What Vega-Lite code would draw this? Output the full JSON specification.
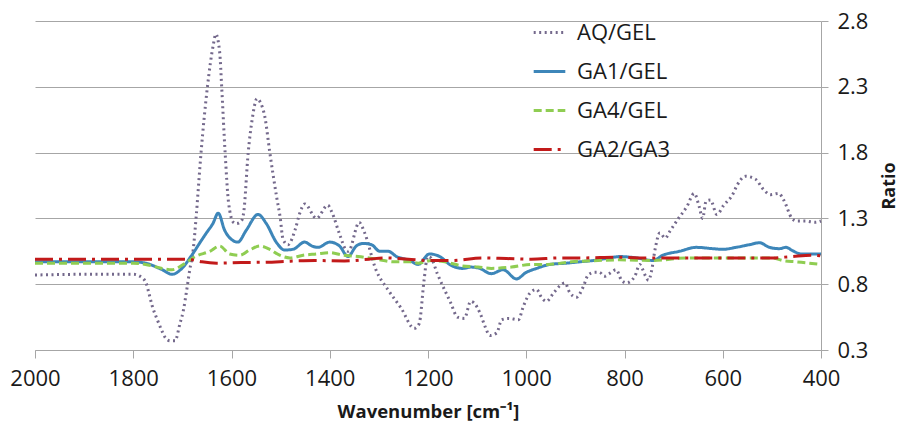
{
  "$schema": "https://vega.github.io/schema/vega-lite/v6.json",
  "width": 786,
  "height": 329,
  "autosize": "none",
  "padding": {"left": 35, "top": 21, "right": 81, "bottom": 75},
  "background": "white",
  "config": {
    "font": "Open Sans",
    "view": {"stroke": null},
    "axis": {"labelFont": "Open Sans", "titleFont": "Open Sans"}
  },
  "datasets": {
    "spectra": [
      {"w": 2000, "r": 0.87, "s": "AQ/GEL"},
      {"w": 1900, "r": 0.875, "s": "AQ/GEL"},
      {"w": 1800, "r": 0.875, "s": "AQ/GEL"},
      {"w": 1786, "r": 0.86, "s": "AQ/GEL"},
      {"w": 1774, "r": 0.81, "s": "AQ/GEL"},
      {"w": 1768, "r": 0.73, "s": "AQ/GEL"},
      {"w": 1761, "r": 0.63, "s": "AQ/GEL"},
      {"w": 1751, "r": 0.53, "s": "AQ/GEL"},
      {"w": 1741, "r": 0.44, "s": "AQ/GEL"},
      {"w": 1734, "r": 0.39, "s": "AQ/GEL"},
      {"w": 1725, "r": 0.37, "s": "AQ/GEL"},
      {"w": 1715, "r": 0.37, "s": "AQ/GEL"},
      {"w": 1705, "r": 0.5, "s": "AQ/GEL"},
      {"w": 1698, "r": 0.6, "s": "AQ/GEL"},
      {"w": 1691, "r": 0.76, "s": "AQ/GEL"},
      {"w": 1685, "r": 0.91, "s": "AQ/GEL"},
      {"w": 1678, "r": 1.06, "s": "AQ/GEL"},
      {"w": 1672, "r": 1.31, "s": "AQ/GEL"},
      {"w": 1662, "r": 1.8, "s": "AQ/GEL"},
      {"w": 1649, "r": 2.3, "s": "AQ/GEL"},
      {"w": 1637, "r": 2.62, "s": "AQ/GEL"},
      {"w": 1632, "r": 2.7, "s": "AQ/GEL"},
      {"w": 1624, "r": 2.56, "s": "AQ/GEL"},
      {"w": 1620, "r": 2.3, "s": "AQ/GEL"},
      {"w": 1613, "r": 1.8, "s": "AQ/GEL"},
      {"w": 1606, "r": 1.42, "s": "AQ/GEL"},
      {"w": 1596, "r": 1.27, "s": "AQ/GEL"},
      {"w": 1590, "r": 1.26, "s": "AQ/GEL"},
      {"w": 1580, "r": 1.28, "s": "AQ/GEL"},
      {"w": 1575, "r": 1.35, "s": "AQ/GEL"},
      {"w": 1566, "r": 1.8, "s": "AQ/GEL"},
      {"w": 1558, "r": 2.05, "s": "AQ/GEL"},
      {"w": 1548, "r": 2.21, "s": "AQ/GEL"},
      {"w": 1541, "r": 2.18, "s": "AQ/GEL"},
      {"w": 1532, "r": 2.07, "s": "AQ/GEL"},
      {"w": 1522, "r": 1.8, "s": "AQ/GEL"},
      {"w": 1508, "r": 1.46, "s": "AQ/GEL"},
      {"w": 1501, "r": 1.31, "s": "AQ/GEL"},
      {"w": 1495, "r": 1.14, "s": "AQ/GEL"},
      {"w": 1485, "r": 1.1, "s": "AQ/GEL"},
      {"w": 1470, "r": 1.22, "s": "AQ/GEL"},
      {"w": 1461, "r": 1.34, "s": "AQ/GEL"},
      {"w": 1451, "r": 1.41, "s": "AQ/GEL"},
      {"w": 1427, "r": 1.3, "s": "AQ/GEL"},
      {"w": 1404, "r": 1.4, "s": "AQ/GEL"},
      {"w": 1396, "r": 1.35, "s": "AQ/GEL"},
      {"w": 1380, "r": 1.18, "s": "AQ/GEL"},
      {"w": 1367, "r": 1.06, "s": "AQ/GEL"},
      {"w": 1362, "r": 1.05, "s": "AQ/GEL"},
      {"w": 1340, "r": 1.27, "s": "AQ/GEL"},
      {"w": 1330, "r": 1.2, "s": "AQ/GEL"},
      {"w": 1306, "r": 0.91, "s": "AQ/GEL"},
      {"w": 1280, "r": 0.75, "s": "AQ/GEL"},
      {"w": 1255, "r": 0.62, "s": "AQ/GEL"},
      {"w": 1228, "r": 0.465, "s": "AQ/GEL"},
      {"w": 1218, "r": 0.5, "s": "AQ/GEL"},
      {"w": 1208, "r": 0.83, "s": "AQ/GEL"},
      {"w": 1201, "r": 1.01, "s": "AQ/GEL"},
      {"w": 1194, "r": 1.0, "s": "AQ/GEL"},
      {"w": 1181, "r": 0.88, "s": "AQ/GEL"},
      {"w": 1154, "r": 0.66, "s": "AQ/GEL"},
      {"w": 1140, "r": 0.55, "s": "AQ/GEL"},
      {"w": 1126, "r": 0.54, "s": "AQ/GEL"},
      {"w": 1113, "r": 0.67, "s": "AQ/GEL"},
      {"w": 1107, "r": 0.66, "s": "AQ/GEL"},
      {"w": 1094, "r": 0.58, "s": "AQ/GEL"},
      {"w": 1084, "r": 0.48, "s": "AQ/GEL"},
      {"w": 1074, "r": 0.41, "s": "AQ/GEL"},
      {"w": 1060, "r": 0.43, "s": "AQ/GEL"},
      {"w": 1050, "r": 0.53, "s": "AQ/GEL"},
      {"w": 1036, "r": 0.54, "s": "AQ/GEL"},
      {"w": 1016, "r": 0.53, "s": "AQ/GEL"},
      {"w": 1006, "r": 0.63, "s": "AQ/GEL"},
      {"w": 993, "r": 0.73, "s": "AQ/GEL"},
      {"w": 979, "r": 0.76, "s": "AQ/GEL"},
      {"w": 969, "r": 0.7, "s": "AQ/GEL"},
      {"w": 959, "r": 0.67, "s": "AQ/GEL"},
      {"w": 945, "r": 0.73, "s": "AQ/GEL"},
      {"w": 931, "r": 0.79, "s": "AQ/GEL"},
      {"w": 921, "r": 0.81, "s": "AQ/GEL"},
      {"w": 912, "r": 0.74, "s": "AQ/GEL"},
      {"w": 898, "r": 0.7, "s": "AQ/GEL"},
      {"w": 884, "r": 0.78, "s": "AQ/GEL"},
      {"w": 874, "r": 0.87, "s": "AQ/GEL"},
      {"w": 861, "r": 0.89, "s": "AQ/GEL"},
      {"w": 851, "r": 0.89, "s": "AQ/GEL"},
      {"w": 841, "r": 0.86, "s": "AQ/GEL"},
      {"w": 831, "r": 0.88, "s": "AQ/GEL"},
      {"w": 817, "r": 0.91, "s": "AQ/GEL"},
      {"w": 806, "r": 0.83, "s": "AQ/GEL"},
      {"w": 796, "r": 0.81, "s": "AQ/GEL"},
      {"w": 779, "r": 0.86, "s": "AQ/GEL"},
      {"w": 769, "r": 0.95, "s": "AQ/GEL"},
      {"w": 764, "r": 0.92, "s": "AQ/GEL"},
      {"w": 757, "r": 0.86, "s": "AQ/GEL"},
      {"w": 751, "r": 0.83, "s": "AQ/GEL"},
      {"w": 745, "r": 0.9, "s": "AQ/GEL"},
      {"w": 738, "r": 1.06, "s": "AQ/GEL"},
      {"w": 728, "r": 1.19, "s": "AQ/GEL"},
      {"w": 717, "r": 1.15, "s": "AQ/GEL"},
      {"w": 708, "r": 1.2, "s": "AQ/GEL"},
      {"w": 692, "r": 1.29, "s": "AQ/GEL"},
      {"w": 673, "r": 1.39, "s": "AQ/GEL"},
      {"w": 658, "r": 1.49, "s": "AQ/GEL"},
      {"w": 648, "r": 1.39, "s": "AQ/GEL"},
      {"w": 641, "r": 1.3, "s": "AQ/GEL"},
      {"w": 634, "r": 1.43, "s": "AQ/GEL"},
      {"w": 625, "r": 1.44, "s": "AQ/GEL"},
      {"w": 612, "r": 1.33, "s": "AQ/GEL"},
      {"w": 598, "r": 1.4, "s": "AQ/GEL"},
      {"w": 580, "r": 1.48, "s": "AQ/GEL"},
      {"w": 571, "r": 1.55, "s": "AQ/GEL"},
      {"w": 554, "r": 1.62, "s": "AQ/GEL"},
      {"w": 534, "r": 1.6, "s": "AQ/GEL"},
      {"w": 517, "r": 1.52, "s": "AQ/GEL"},
      {"w": 503, "r": 1.48, "s": "AQ/GEL"},
      {"w": 486, "r": 1.49, "s": "AQ/GEL"},
      {"w": 476, "r": 1.44, "s": "AQ/GEL"},
      {"w": 459, "r": 1.3, "s": "AQ/GEL"},
      {"w": 449, "r": 1.28, "s": "AQ/GEL"},
      {"w": 432, "r": 1.28, "s": "AQ/GEL"},
      {"w": 412, "r": 1.27, "s": "AQ/GEL"},
      {"w": 400, "r": 1.28, "s": "AQ/GEL"},

      {"w": 2000, "r": 0.97, "s": "GA1/GEL"},
      {"w": 1800, "r": 0.97, "s": "GA1/GEL"},
      {"w": 1775, "r": 0.96, "s": "GA1/GEL"},
      {"w": 1741, "r": 0.91, "s": "GA1/GEL"},
      {"w": 1721, "r": 0.875, "s": "GA1/GEL"},
      {"w": 1701, "r": 0.92, "s": "GA1/GEL"},
      {"w": 1681, "r": 1.02, "s": "GA1/GEL"},
      {"w": 1660, "r": 1.14, "s": "GA1/GEL"},
      {"w": 1651, "r": 1.19, "s": "GA1/GEL"},
      {"w": 1638, "r": 1.26, "s": "GA1/GEL"},
      {"w": 1627, "r": 1.34, "s": "GA1/GEL"},
      {"w": 1614, "r": 1.21, "s": "GA1/GEL"},
      {"w": 1600, "r": 1.14, "s": "GA1/GEL"},
      {"w": 1587, "r": 1.12, "s": "GA1/GEL"},
      {"w": 1570, "r": 1.21, "s": "GA1/GEL"},
      {"w": 1546, "r": 1.33, "s": "GA1/GEL"},
      {"w": 1529, "r": 1.26, "s": "GA1/GEL"},
      {"w": 1509, "r": 1.12, "s": "GA1/GEL"},
      {"w": 1492, "r": 1.06, "s": "GA1/GEL"},
      {"w": 1475, "r": 1.065, "s": "GA1/GEL"},
      {"w": 1451, "r": 1.12, "s": "GA1/GEL"},
      {"w": 1436, "r": 1.09, "s": "GA1/GEL"},
      {"w": 1424, "r": 1.08, "s": "GA1/GEL"},
      {"w": 1400, "r": 1.12, "s": "GA1/GEL"},
      {"w": 1380, "r": 1.09, "s": "GA1/GEL"},
      {"w": 1363, "r": 1.01, "s": "GA1/GEL"},
      {"w": 1346, "r": 1.09, "s": "GA1/GEL"},
      {"w": 1332, "r": 1.11, "s": "GA1/GEL"},
      {"w": 1315, "r": 1.1, "s": "GA1/GEL"},
      {"w": 1298, "r": 1.05, "s": "GA1/GEL"},
      {"w": 1281, "r": 1.05, "s": "GA1/GEL"},
      {"w": 1264, "r": 1.01, "s": "GA1/GEL"},
      {"w": 1237, "r": 0.98, "s": "GA1/GEL"},
      {"w": 1220, "r": 0.95, "s": "GA1/GEL"},
      {"w": 1197, "r": 1.03, "s": "GA1/GEL"},
      {"w": 1176, "r": 1.01, "s": "GA1/GEL"},
      {"w": 1156, "r": 0.95, "s": "GA1/GEL"},
      {"w": 1129, "r": 0.92, "s": "GA1/GEL"},
      {"w": 1112, "r": 0.93, "s": "GA1/GEL"},
      {"w": 1095, "r": 0.92, "s": "GA1/GEL"},
      {"w": 1071, "r": 0.88, "s": "GA1/GEL"},
      {"w": 1047, "r": 0.91, "s": "GA1/GEL"},
      {"w": 1020, "r": 0.84, "s": "GA1/GEL"},
      {"w": 1000, "r": 0.89, "s": "GA1/GEL"},
      {"w": 979, "r": 0.92, "s": "GA1/GEL"},
      {"w": 952, "r": 0.95, "s": "GA1/GEL"},
      {"w": 918, "r": 0.96, "s": "GA1/GEL"},
      {"w": 891, "r": 0.97, "s": "GA1/GEL"},
      {"w": 864, "r": 0.98, "s": "GA1/GEL"},
      {"w": 830, "r": 1.0, "s": "GA1/GEL"},
      {"w": 810, "r": 1.01, "s": "GA1/GEL"},
      {"w": 776, "r": 1.0, "s": "GA1/GEL"},
      {"w": 742, "r": 0.98, "s": "GA1/GEL"},
      {"w": 722, "r": 1.02, "s": "GA1/GEL"},
      {"w": 688, "r": 1.05, "s": "GA1/GEL"},
      {"w": 654, "r": 1.08, "s": "GA1/GEL"},
      {"w": 620, "r": 1.07, "s": "GA1/GEL"},
      {"w": 600, "r": 1.065, "s": "GA1/GEL"},
      {"w": 573, "r": 1.08, "s": "GA1/GEL"},
      {"w": 546, "r": 1.1, "s": "GA1/GEL"},
      {"w": 525, "r": 1.115, "s": "GA1/GEL"},
      {"w": 505, "r": 1.08, "s": "GA1/GEL"},
      {"w": 485, "r": 1.07, "s": "GA1/GEL"},
      {"w": 471, "r": 1.08, "s": "GA1/GEL"},
      {"w": 458, "r": 1.055, "s": "GA1/GEL"},
      {"w": 441, "r": 1.03, "s": "GA1/GEL"},
      {"w": 424, "r": 1.03, "s": "GA1/GEL"},
      {"w": 400, "r": 1.03, "s": "GA1/GEL"},

      {"w": 2000, "r": 0.96, "s": "GA4/GEL"},
      {"w": 1800, "r": 0.96, "s": "GA4/GEL"},
      {"w": 1775, "r": 0.95, "s": "GA4/GEL"},
      {"w": 1741, "r": 0.92, "s": "GA4/GEL"},
      {"w": 1721, "r": 0.91, "s": "GA4/GEL"},
      {"w": 1694, "r": 0.96, "s": "GA4/GEL"},
      {"w": 1674, "r": 1.01, "s": "GA4/GEL"},
      {"w": 1644, "r": 1.05, "s": "GA4/GEL"},
      {"w": 1624, "r": 1.09, "s": "GA4/GEL"},
      {"w": 1604, "r": 1.03, "s": "GA4/GEL"},
      {"w": 1583, "r": 1.02, "s": "GA4/GEL"},
      {"w": 1563, "r": 1.06, "s": "GA4/GEL"},
      {"w": 1542, "r": 1.09, "s": "GA4/GEL"},
      {"w": 1522, "r": 1.065, "s": "GA4/GEL"},
      {"w": 1502, "r": 1.02, "s": "GA4/GEL"},
      {"w": 1481, "r": 1.0, "s": "GA4/GEL"},
      {"w": 1454, "r": 1.02, "s": "GA4/GEL"},
      {"w": 1427, "r": 1.03, "s": "GA4/GEL"},
      {"w": 1400, "r": 1.04, "s": "GA4/GEL"},
      {"w": 1373, "r": 1.02, "s": "GA4/GEL"},
      {"w": 1342, "r": 1.01, "s": "GA4/GEL"},
      {"w": 1305, "r": 0.99, "s": "GA4/GEL"},
      {"w": 1271, "r": 0.97, "s": "GA4/GEL"},
      {"w": 1237, "r": 0.97, "s": "GA4/GEL"},
      {"w": 1220, "r": 0.96, "s": "GA4/GEL"},
      {"w": 1193, "r": 0.98, "s": "GA4/GEL"},
      {"w": 1166, "r": 0.97, "s": "GA4/GEL"},
      {"w": 1132, "r": 0.94, "s": "GA4/GEL"},
      {"w": 1098, "r": 0.93, "s": "GA4/GEL"},
      {"w": 1071, "r": 0.92, "s": "GA4/GEL"},
      {"w": 1030, "r": 0.93, "s": "GA4/GEL"},
      {"w": 990, "r": 0.95, "s": "GA4/GEL"},
      {"w": 956, "r": 0.95, "s": "GA4/GEL"},
      {"w": 908, "r": 0.97, "s": "GA4/GEL"},
      {"w": 854, "r": 0.98, "s": "GA4/GEL"},
      {"w": 810, "r": 0.985, "s": "GA4/GEL"},
      {"w": 742, "r": 0.98, "s": "GA4/GEL"},
      {"w": 674, "r": 1.0, "s": "GA4/GEL"},
      {"w": 606, "r": 1.0, "s": "GA4/GEL"},
      {"w": 539, "r": 1.0, "s": "GA4/GEL"},
      {"w": 498, "r": 1.0, "s": "GA4/GEL"},
      {"w": 478, "r": 0.98, "s": "GA4/GEL"},
      {"w": 451, "r": 0.97, "s": "GA4/GEL"},
      {"w": 424, "r": 0.96, "s": "GA4/GEL"},
      {"w": 400, "r": 0.95, "s": "GA4/GEL"},

      {"w": 2000, "r": 0.99, "s": "GA2/GA3"},
      {"w": 1700, "r": 0.99, "s": "GA2/GA3"},
      {"w": 1680, "r": 0.985, "s": "GA2/GA3"},
      {"w": 1660, "r": 0.97, "s": "GA2/GA3"},
      {"w": 1630, "r": 0.96, "s": "GA2/GA3"},
      {"w": 1580, "r": 0.965, "s": "GA2/GA3"},
      {"w": 1530, "r": 0.967, "s": "GA2/GA3"},
      {"w": 1480, "r": 0.975, "s": "GA2/GA3"},
      {"w": 1430, "r": 0.98, "s": "GA2/GA3"},
      {"w": 1370, "r": 0.977, "s": "GA2/GA3"},
      {"w": 1320, "r": 0.99, "s": "GA2/GA3"},
      {"w": 1290, "r": 1.0, "s": "GA2/GA3"},
      {"w": 1240, "r": 0.99, "s": "GA2/GA3"},
      {"w": 1200, "r": 0.98, "s": "GA2/GA3"},
      {"w": 1150, "r": 0.98, "s": "GA2/GA3"},
      {"w": 1090, "r": 1.0, "s": "GA2/GA3"},
      {"w": 1040, "r": 0.995, "s": "GA2/GA3"},
      {"w": 990, "r": 0.99, "s": "GA2/GA3"},
      {"w": 930, "r": 1.0, "s": "GA2/GA3"},
      {"w": 880, "r": 1.0, "s": "GA2/GA3"},
      {"w": 820, "r": 1.005, "s": "GA2/GA3"},
      {"w": 770, "r": 1.0, "s": "GA2/GA3"},
      {"w": 700, "r": 1.0, "s": "GA2/GA3"},
      {"w": 600, "r": 1.0, "s": "GA2/GA3"},
      {"w": 500, "r": 1.0, "s": "GA2/GA3"},
      {"w": 460, "r": 1.01, "s": "GA2/GA3"},
      {"w": 420, "r": 1.02, "s": "GA2/GA3"},
      {"w": 400, "r": 1.015, "s": "GA2/GA3"}
    ]
  },
  "layer": [
    {
      "data": {"name": "spectra"},
      "mark": {"type": "line", "strokeWidth": 3, "interpolate": "monotone"},
      "encoding": {
        "x": {
          "field": "w", "type": "quantitative",
          "scale": {"domain": [400, 2000], "reverse": true, "nice": false, "zero": false},
          "axis": {
            "orient": "bottom",
            "values": [2000, 1800, 1600, 1400, 1200, 1000, 800, 600, 400],
            "format": "d",
            "grid": false,
            "labelFlush": false,
            "domainColor": "#a6a6a6",
            "tickColor": "#a6a6a6",
            "tickSize": 8,
            "labelFontSize": 22,
            "labelColor": "#1a1a1a",
            "labelPadding": 10,
            "title": "Wavenumber [cm⁻¹]",
            "titleFontSize": 18.5,
            "titleFontWeight": "bold",
            "titleColor": "#1a1a1a",
            "titlePadding": 13
          }
        },
        "y": {
          "field": "r", "type": "quantitative",
          "scale": {"domain": [0.3, 2.8], "nice": false, "zero": false},
          "axis": {
            "orient": "right",
            "values": [0.3, 0.8, 1.3, 1.8, 2.3, 2.8],
            "format": ".1f",
            "grid": true,
            "gridColor": "#a6a6a6",
            "domainColor": "#a6a6a6",
            "tickColor": "#a6a6a6",
            "tickSize": 7,
            "labelFontSize": 22,
            "labelColor": "#1a1a1a",
            "labelPadding": 9,
            "title": "Ratio",
            "titleAngle": 270,
            "titleFontSize": 18,
            "titleFontWeight": "bold",
            "titleColor": "#1a1a1a",
            "titlePadding": 31
          }
        },
        "color": {
          "field": "s", "type": "nominal",
          "scale": {"domain": ["AQ/GEL", "GA1/GEL", "GA4/GEL", "GA2/GA3"], "range": ["#74698c", "#3d86b9", "#8fcd52", "#c21a1a"]},
          "legend": {
            "title": null,
            "orient": "none",
            "legendX": 497,
            "legendY": -6,
            "symbolType": "stroke",
            "symbolSize": 1000,
            "symbolStrokeWidth": 3,
            "labelFontSize": 22,
            "labelColor": "#1a1a1a",
            "labelOffset": 10,
            "rowPadding": 10,
            "labelFont": "Open Sans"
          }
        },
        "strokeDash": {
          "field": "s", "type": "nominal",
          "scale": {"domain": ["AQ/GEL", "GA1/GEL", "GA4/GEL", "GA2/GA3"], "range": [[2, 3.5], [1, 0], [8, 4], [18, 6, 3, 6]]},
          "legend": {
            "title": null,
            "orient": "none",
            "legendX": 497,
            "legendY": -6,
            "symbolType": "stroke",
            "symbolSize": 1000,
            "symbolStrokeWidth": 3,
            "labelFontSize": 22,
            "labelColor": "#1a1a1a",
            "labelOffset": 10,
            "rowPadding": 10,
            "labelFont": "Open Sans"
          }
        },
        "order": {"field": "w", "type": "quantitative", "sort": "descending"}
      }
    },
    {
      "mark": {"type": "rule", "color": "#9ccc62", "strokeWidth": 1, "strokeDash": [4, 3]},
      "encoding": {"y": {"datum": 2.8, "type": "quantitative"}}
    },
    {
      "mark": {"type": "rule", "color": "#9ccc62", "strokeWidth": 1, "strokeDash": [6, 3, 1, 3]},
      "encoding": {"x": {"datum": 2000, "type": "quantitative"}}
    }
  ]
}
